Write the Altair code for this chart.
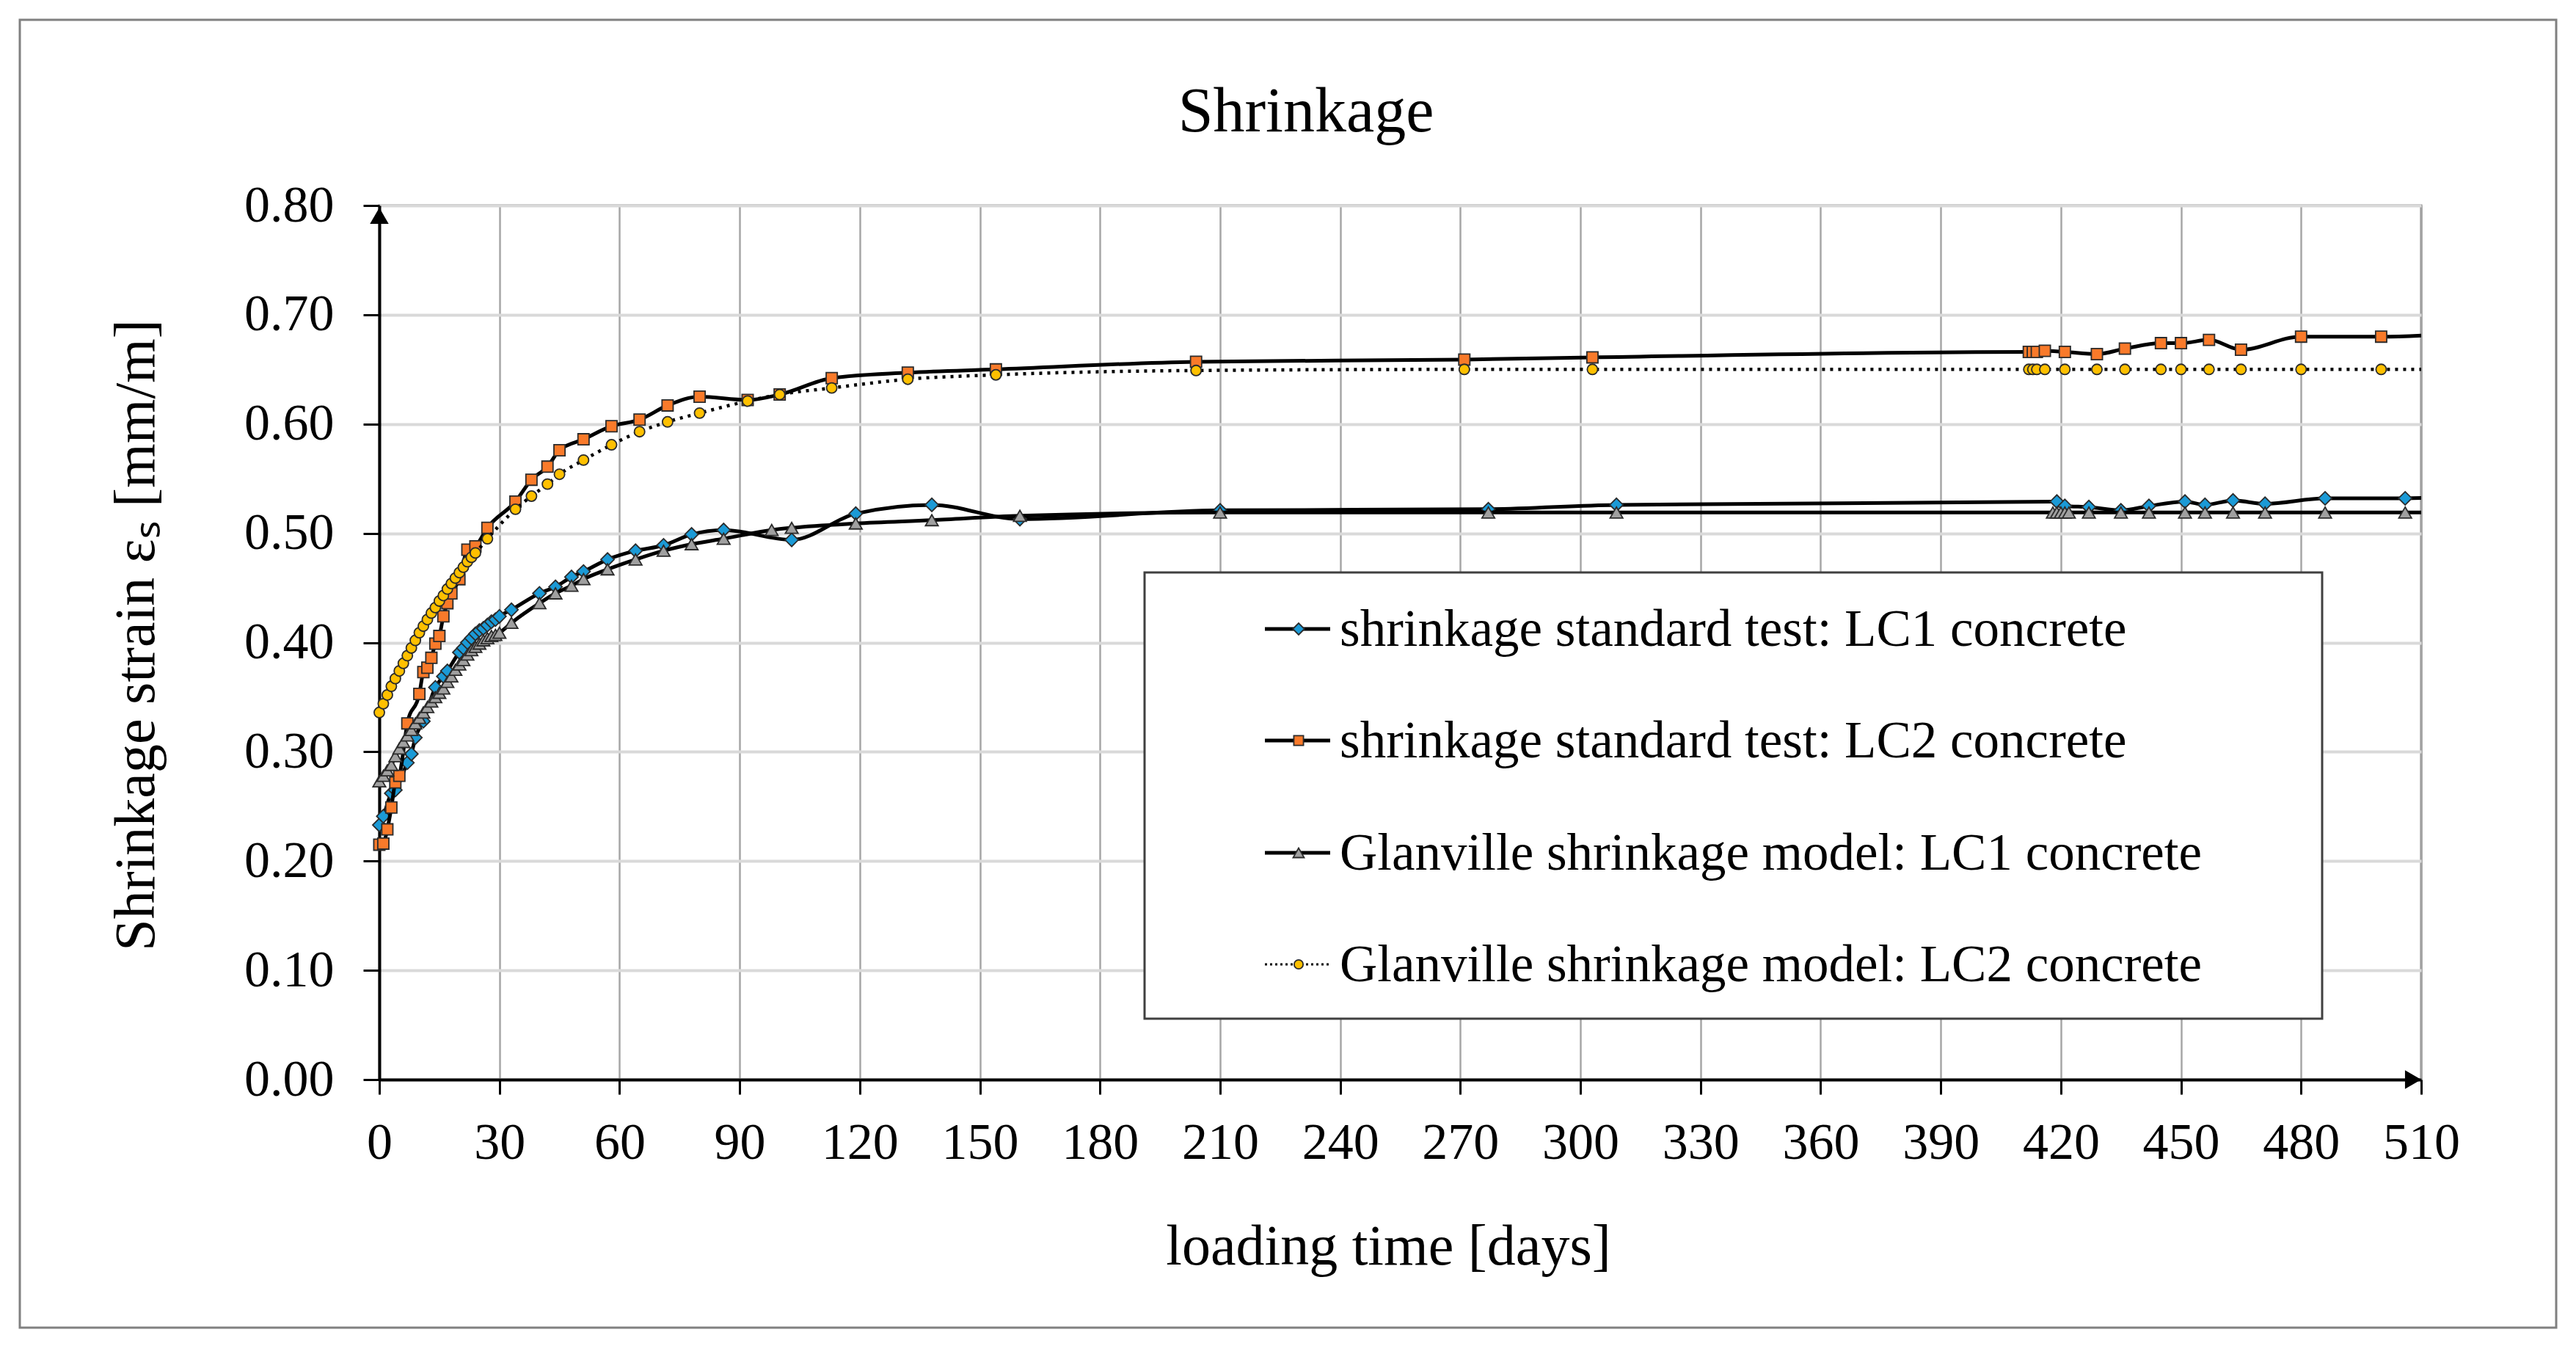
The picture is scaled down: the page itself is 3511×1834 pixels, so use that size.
import pandas as pd
import altair as alt

# --- data ---
lc1_test_days = [0, 1, 3, 4, 7, 8, 9, 11, 14, 16, 17, 20, 21, 22, 23, 24, 25, 26, 27, 28, 29, 30,
                 33, 40, 44, 48, 51, 57, 64, 71, 78, 86, 103, 119, 138, 160, 210, 277, 309,
                 419, 421, 427, 435, 442, 451, 456, 463, 471, 486, 506, 520]
lc1_test_vals = [0.233, 0.241, 0.262, 0.265, 0.290, 0.298, 0.313, 0.328, 0.359, 0.369, 0.374,
                 0.391, 0.395, 0.400, 0.404, 0.408, 0.411, 0.413, 0.416, 0.419, 0.421, 0.424,
                 0.430, 0.445, 0.451, 0.460, 0.465, 0.476, 0.484, 0.489, 0.499, 0.503, 0.494,
                 0.518, 0.526, 0.513, 0.521, 0.522, 0.526,
                 0.529, 0.525, 0.524, 0.521, 0.525, 0.529, 0.526, 0.530, 0.527, 0.532, 0.532, 0.534]

lc2_test_days = [0, 1, 2, 3, 4, 5, 7, 10, 11, 12, 13, 14, 15, 16, 17, 18, 20, 22, 24, 27,
                 34, 38, 42, 45, 51, 58, 65, 72, 80, 92, 100, 113, 132, 154, 204, 271, 303,
                 412, 413, 414, 416, 421, 429, 436, 445, 450, 457, 465, 480, 500, 520]
lc2_test_vals = [0.215, 0.216, 0.229, 0.249, 0.272, 0.278, 0.326, 0.353, 0.373, 0.377, 0.386,
                 0.399, 0.406, 0.424, 0.436, 0.445, 0.458, 0.485, 0.488, 0.505,
                 0.529, 0.549, 0.561, 0.576, 0.586, 0.598, 0.604, 0.617, 0.625, 0.622, 0.627,
                 0.642, 0.647, 0.650, 0.657, 0.659, 0.661,
                 0.666, 0.666, 0.666, 0.667, 0.666, 0.664, 0.669, 0.674, 0.674, 0.677, 0.668,
                 0.680, 0.680, 0.683]

lc1_model_days = [0, 1, 2, 3, 4, 5, 6, 7, 8, 9, 10, 11, 12, 13, 14, 15, 16, 17, 18, 19, 20,
                  21, 22, 23, 24, 25, 26, 27, 28, 29, 30, 33, 40, 44, 48, 51, 57, 64, 71, 78,
                  86, 98, 103, 119, 138, 160, 210, 277, 309, 418, 419, 420, 421, 422, 427,
                  435, 442, 451, 456, 463, 471, 486, 506, 520]
lc1_model_vals = [0.273, 0.278, 0.283, 0.288, 0.296, 0.303, 0.309, 0.315, 0.320, 0.326, 0.331,
                  0.336, 0.341, 0.346, 0.350, 0.354, 0.358, 0.364, 0.369, 0.375, 0.380,
                  0.384, 0.389, 0.393, 0.396, 0.399, 0.402, 0.404, 0.406, 0.407, 0.409,
                  0.418, 0.436, 0.445, 0.452, 0.458, 0.467, 0.476, 0.484, 0.490,
                  0.495, 0.503, 0.505, 0.509, 0.512, 0.516, 0.519, 0.519, 0.519,
                  0.519, 0.519, 0.519, 0.519, 0.519, 0.519,
                  0.519, 0.519, 0.519, 0.519, 0.519, 0.519, 0.519, 0.519, 0.519]

lc2_model_days = [0, 1, 2, 3, 4, 5, 6, 7, 8, 9, 10, 11, 12, 13, 14, 15, 16, 17, 18, 19, 20,
                  21, 22, 23, 24, 27, 34, 38, 42, 45, 51, 58, 65, 72, 80, 92, 100, 113, 132,
                  154, 204, 271, 303, 412, 413, 414, 416, 421, 429, 436, 445, 450, 457, 465,
                  480, 500, 520]
lc2_model_vals = [0.336, 0.344, 0.352, 0.360, 0.367, 0.374, 0.381, 0.388, 0.395, 0.402, 0.409,
                  0.415, 0.421, 0.427, 0.432, 0.438, 0.443, 0.449, 0.454, 0.459, 0.464,
                  0.469, 0.474, 0.478, 0.482, 0.495, 0.522, 0.534, 0.545, 0.554, 0.567, 0.581,
                  0.593, 0.602, 0.610, 0.621, 0.627, 0.633, 0.641,
                  0.645, 0.649, 0.650, 0.650, 0.650, 0.650, 0.650, 0.650, 0.650, 0.650, 0.650,
                  0.650, 0.650, 0.650, 0.650, 0.650, 0.650, 0.650]

series_names = ["shrinkage standard test: LC1 concrete",
                "shrinkage standard test: LC2 concrete",
                "Glanville shrinkage model: LC1 concrete",
                "Glanville shrinkage model: LC2 concrete"]

x_ticks = list(range(0, 511, 30))
y_ticks = [0.0, 0.1, 0.2, 0.3, 0.4, 0.5, 0.6, 0.7, 0.8]

FONT = "Liberation Serif"
W, H = 2783, 1191

x_enc = alt.X(
    "day:Q",
    scale=alt.Scale(domain=[0, 510], nice=False, zero=False),
    axis=alt.Axis(
        title="loading time [days]",
        values=x_ticks,
        tickSize=20,
        labelPadding=32,
        labelFlush=False,
        labelOverlap=False,
        gridColor="#a6a6a6",
        gridWidth=2.5,
        titleX=1375,
        titleY=251,
        titleAlign="center",
        titleBaseline="alphabetic",
    ),
)
y_enc = alt.Y(
    "strain:Q",
    scale=alt.Scale(domain=[0, 0.8], nice=False),
    axis=alt.Axis(
        title="Shrinkage strain εₛ [mm/m]",
        values=y_ticks,
        format=".2f",
        tickSize=22,
        labelPadding=40,
        gridColor="#d9d9d9",
        gridWidth=4,
        titleX=-331,
        titleY=585,
        titleAlign="center",
        titleBaseline="middle",
    ),
)

styles = [
    dict(days=lc1_test_days, vals=lc1_test_vals, color="#1b9ad6", shape="diamond", size=330, dash=None),
    dict(days=lc2_test_days, vals=lc2_test_vals, color="#f97a2a", shape="square", size=230, dash=None),
    dict(days=lc1_model_days, vals=lc1_model_vals, color="#a0a0a0", shape="triangle-up", size=300, dash=None),
    dict(days=lc2_model_days, vals=lc2_model_vals, color="#ffc000", shape="circle", size=200, dash=[4, 7]),
]

anchor = pd.DataFrame({"k": [0]})
layers = []

# outer frame around the whole figure
layers.append(
    alt.Chart(anchor).mark_rect(fillOpacity=0, stroke="#808080", strokeWidth=3).encode(
        x=alt.value(-490), x2=alt.value(2967), y=alt.value(-253), y2=alt.value(1529)
    )
)

for s in styles:
    df = pd.DataFrame({"day": s["days"], "strain": s["vals"]})
    line_kw = dict(color="black", strokeWidth=5, interpolate="monotone", clip=True)
    if s["dash"]:
        line_kw["strokeDash"] = s["dash"]
        line_kw["strokeWidth"] = 4.5
    layers.append(alt.Chart(df).mark_line(**line_kw).encode(x=x_enc, y=y_enc))
    layers.append(
        alt.Chart(df)
        .transform_filter(alt.datum.day <= 510)
        .mark_point(shape=s["shape"], filled=True, fill=s["color"], stroke="#2b2b2b",
                    strokeWidth=1.8, size=s["size"], opacity=1)
        .encode(x=x_enc, y=y_enc)
    )

# axis arrow heads
layers.append(
    alt.Chart(anchor).mark_point(shape="triangle-up", filled=True, color="black", size=650, opacity=1)
    .encode(x=alt.value(0), y=alt.value(14))
)
layers.append(
    alt.Chart(anchor).mark_point(shape="triangle-right", filled=True, color="black", size=650, opacity=1)
    .encode(x=alt.value(W - 11), y=alt.value(H))
)

# legend box
layers.append(
    alt.Chart(anchor).mark_rect(fill="white", stroke="#404040", strokeWidth=3).encode(
        x=alt.value(1043), x2=alt.value(2648), y=alt.value(500), y2=alt.value(1108)
    )
)
row_y = [577, 729, 882, 1034]
for name, s, ry in zip(series_names, styles, row_y):
    rule_kw = dict(color="black", strokeWidth=5)
    if s["dash"]:
        rule_kw = dict(color="black", strokeWidth=3, strokeDash=[3, 4])
    layers.append(
        alt.Chart(anchor).mark_rule(**rule_kw).encode(
            x=alt.value(1207), x2=alt.value(1296), y=alt.value(ry)
        )
    )
    layers.append(
        alt.Chart(anchor).mark_point(shape=s["shape"], filled=True, fill=s["color"], stroke="#2b2b2b",
                                     strokeWidth=1.8, size=s["size"] * 0.75, opacity=1)
        .encode(x=alt.value(1253), y=alt.value(ry))
    )
    layers.append(
        alt.Chart(anchor).mark_text(text=name, font=FONT, fontSize=71, align="left",
                                    baseline="middle", color="black")
        .encode(x=alt.value(1309), y=alt.value(ry + 2))
    )

# chart title
layers.append(
    alt.Chart(anchor).mark_text(text="Shrinkage", font=FONT, fontSize=86, align="center",
                                baseline="alphabetic", color="black")
    .encode(x=alt.value(1263), y=alt.value(-101))
)

chart = alt.layer(*layers).properties(
    width=W,
    height=H,
    autosize=alt.AutoSizeParams(type="none"),
    padding={"left": 509, "top": 272, "right": 203, "bottom": 347},
    background="white",
).configure_view(
    stroke="#7f7f7f", strokeWidth=3
).configure_axis(
    labelFont=FONT,
    labelFontSize=70,
    labelColor="black",
    titleFont=FONT,
    titleFontSize=78,
    titleFontWeight="normal",
    titleColor="black",
    domainColor="black",
    domainWidth=4,
    tickColor="black",
    tickWidth=3,
    grid=True,
)

chart.save("out.html", embed_options={"renderer": "svg", "actions": False})
